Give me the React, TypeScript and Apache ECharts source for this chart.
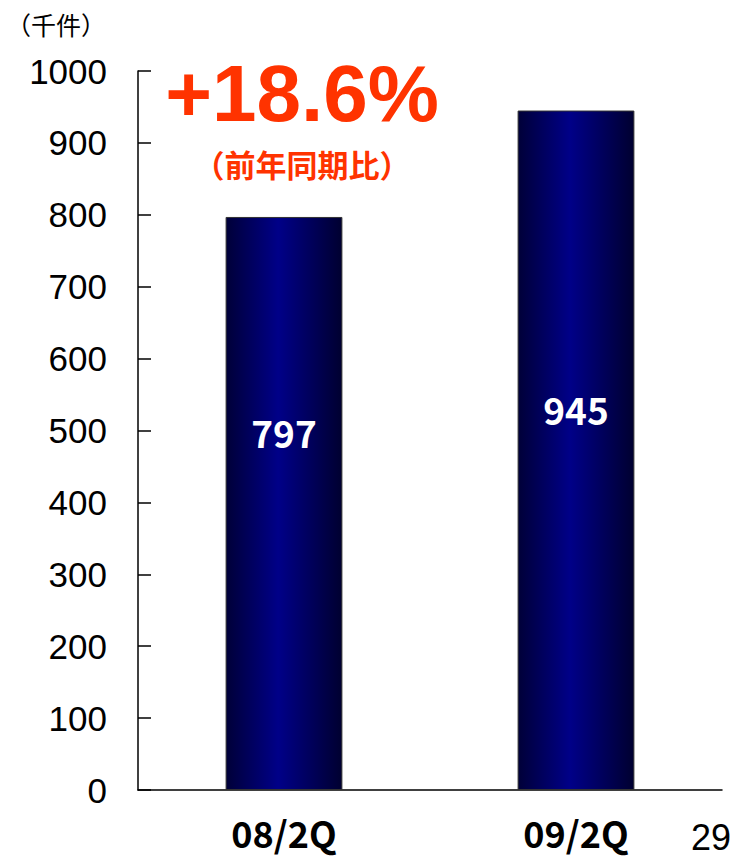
import React, { useEffect, useRef } from "react";
import * as echarts from "echarts";

const categories = ["08/2Q", "09/2Q"];
const values = [797, 945];
const labelOffsets = [-71, -41];
const yMin = 0;
const yMax = 1000;
const yInterval = 100;
const growthText = "+18.6%";
const growthNote = "（前年同期比）";
const unitText = "（千件）";
const pageNo = "29";

export default function App() {
  const ref = useRef<HTMLDivElement>(null);
  useEffect(() => {
    if (!ref.current) return;
    const chart = echarts.init(ref.current, null, { renderer: "svg" });
    const gradient = new echarts.graphic.LinearGradient(0, 0, 1, 0, [
      { offset: 0, color: "#000038" },
      { offset: 0.45, color: "#000088" },
      { offset: 1, color: "#000030" },
    ]);
    chart.setOption({
      animation: false,
      backgroundColor: "#ffffff",
      grid: { left: 138, top: 71, right: 11, bottom: 71, containLabel: false },
      xAxis: {
        type: "category",
        data: categories,
        axisLine: { lineStyle: { color: "#000", width: 1.5 } },
        axisTick: { inside: true, length: 12, lineStyle: { color: "#000", width: 1.5 } },
        axisLabel: {
          color: "#000",
          fontSize: 36,
          lineHeight: 36,
          fontWeight: "bold",
          fontFamily: "Noto Sans CJK JP",
          margin: 24,
        },
      },
      yAxis: {
        type: "value",
        min: yMin,
        max: yMax,
        interval: yInterval,
        axisLine: { show: true, lineStyle: { color: "#000", width: 1.5 } },
        axisTick: { show: true, inside: true, length: 13, lineStyle: { color: "#000", width: 1.5 } },
        splitLine: { show: false },
        axisLabel: {
          color: "#000",
          fontSize: 35,
          fontFamily: "Liberation Sans",
          margin: 31,
          formatter: (v: number) => String(v),
        },
      },
      series: [
        {
          type: "bar",
          barWidth: "40%",
          data: values.map((v, i) => ({
            value: v,
            label: { offset: [0, labelOffsets[i]] },
          })),
          itemStyle: { color: gradient, borderColor: "#333", borderWidth: 1 },
          label: {
            show: true,
            position: "inside",
            color: "#fff",
            fontSize: 37,
            fontWeight: "bold",
            fontFamily: "Noto Sans CJK JP",
          },
        },
      ],
      graphic: [
        {
          type: "text",
          left: 6,
          top: 11,
          style: { text: unitText, fontSize: 25, fill: "#000", fontFamily: "Noto Sans CJK JP" },
        },
        {
          type: "text",
          x: 302,
          y: 93,
          style: {
            text: growthText,
            fontSize: 80,
            fontWeight: "bold",
            fill: "#FF3300",
            fontFamily: "Liberation Sans",
            align: "center",
            verticalAlign: "middle",
          },
        },
        {
          type: "text",
          x: 302,
          y: 163,
          style: {
            text: growthNote,
            fontSize: 31,
            fontWeight: "bold",
            fill: "#FF3300",
            fontFamily: "Noto Sans CJK JP",
            align: "center",
            verticalAlign: "middle",
          },
        },
        {
          type: "text",
          x: 731,
          y: 837,
          style: {
            text: pageNo,
            fontSize: 36,
            fill: "#000",
            fontFamily: "Liberation Sans",
            align: "right",
            verticalAlign: "middle",
          },
        },
      ],
    });
    return () => chart.dispose();
  }, []);
  return <div ref={ref} style={{ width: 733, height: 861, position: "absolute", left: 0, top: 0 }} />;
}
